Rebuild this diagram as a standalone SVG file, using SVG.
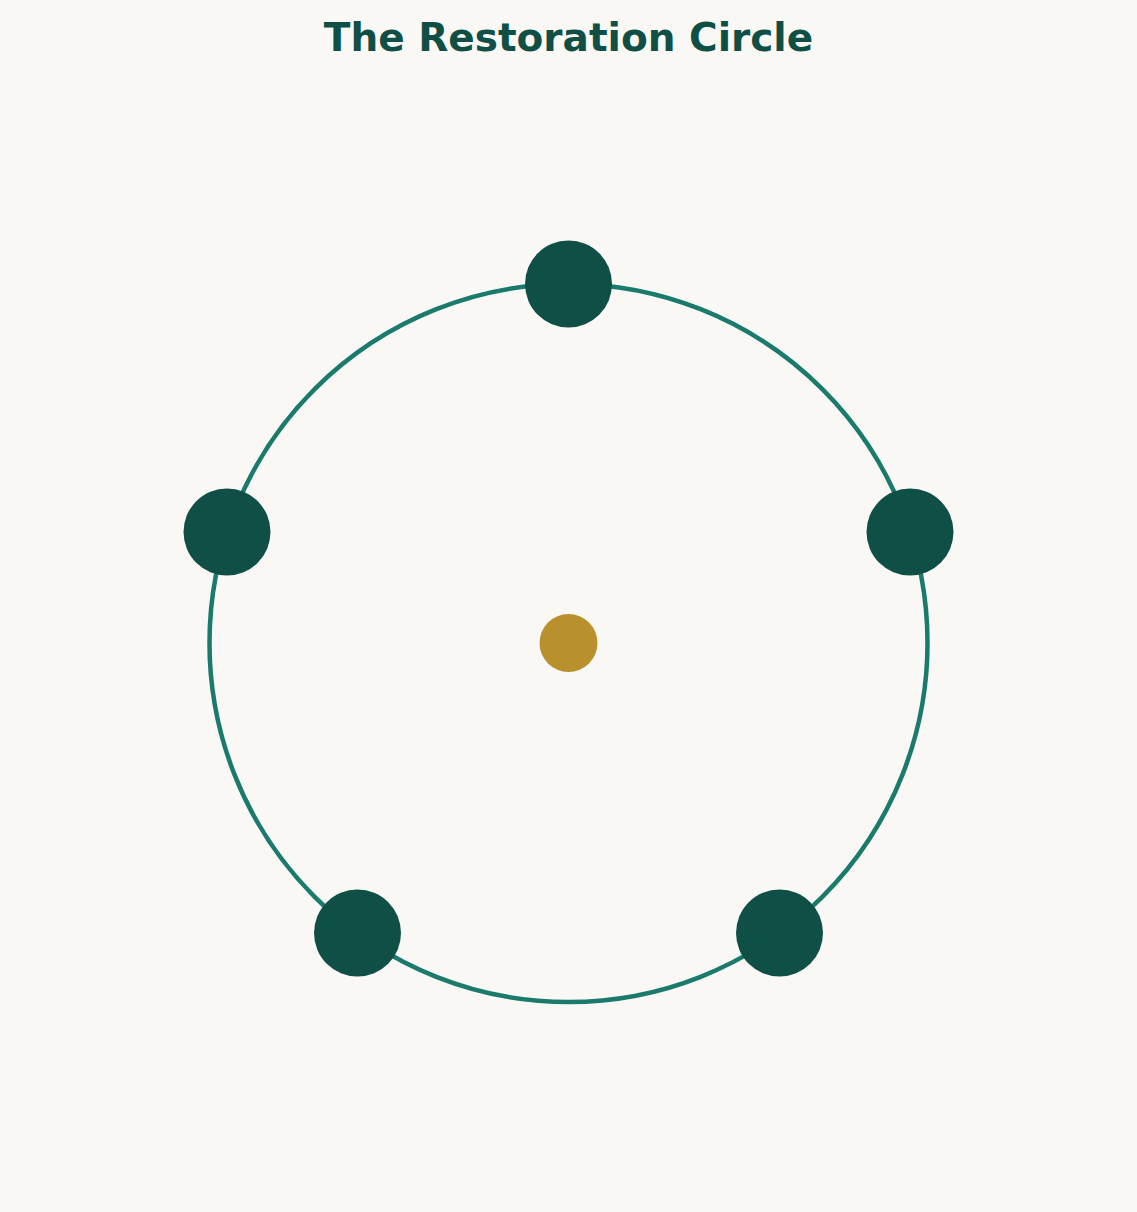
<svg xmlns="http://www.w3.org/2000/svg" width="1137" height="1212" viewBox="0 0 1137 1212">
<style>
.node{fill:#0f4f45}
.ring{fill:none;stroke:#1a7a6c;stroke-width:4.5}
.title{font-family:"DejaVu Sans",sans-serif;font-weight:bold;font-size:39px;fill:#0f4f45}
</style>
<rect width="1137" height="1212" fill="#f9f8f5"/>
<text class="title" x="568.5" y="51" text-anchor="middle">The Restoration Circle</text>
<g id="connectors">
<circle class="ring" cx="568.5" cy="643" r="359"/>
</g>
<g id="center"><circle cx="568.5" cy="643" r="29" fill="#b8912c"/></g>
<g id="node-top"><circle class="node" cx="568.5" cy="284" r="43.5"/></g>
<g id="node-right"><circle class="node" cx="910" cy="532" r="43.5"/></g>
<g id="node-bottom-right"><circle class="node" cx="779.5" cy="933" r="43.5"/></g>
<g id="node-bottom-left"><circle class="node" cx="357.5" cy="933" r="43.5"/></g>
<g id="node-left"><circle class="node" cx="227" cy="532" r="43.5"/></g>
</svg>
